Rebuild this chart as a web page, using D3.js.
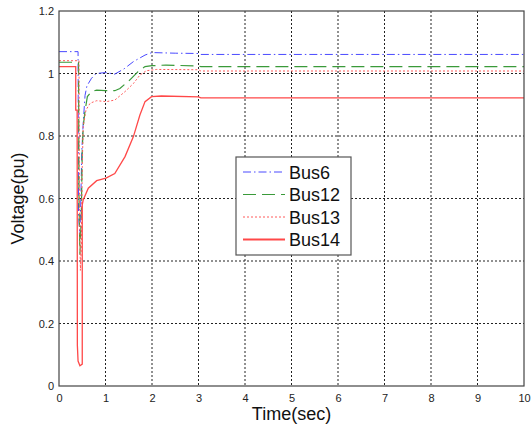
<!DOCTYPE html>
<html lang="en">
<head>
<meta charset="UTF-8">
<title>Bus Voltages</title>
<script src="https://d3js.org/d3.v7.min.js"></script>
<style>
    body{ margin:0; padding:0; background:white; }
    svg{ font-family: "Liberation Sans", Arial, sans-serif; }
</style>
</head>
<body>
<svg id="canvas" width="531" height="427"></svg>
<script>
// data (time in sec, voltage in pu)
const xTicks = [0,1,2,3,4,5,6,7,8,9,10]
const yTicks = [0,0.2,0.4,0.6,0.8,1,1.2]
const yTickLabels = ["0","0.2","0.4","0.6","0.8","1","1.2"]

const bus6T = [0,0.41,0.42,0.45,0.47,0.49,0.52,0.56,0.60,0.70,0.80,1.0,1.2,1.4,1.6,1.85,2.0,2.5,3.0,3.05,10]
const bus6V = [1.07,1.07,0.55,0.48,0.60,0.75,0.84,0.93,0.96,0.985,1.0,1.003,0.998,1.015,1.038,1.059,1.067,1.065,1.064,1.061,1.061]

const bus12T = [0,0.42,0.43,0.45,0.48,0.50,0.52,0.56,0.61,0.70,0.81,1.0,1.2,1.31,1.52,1.70,1.85,2.0,2.3,3.0,3.05,10]
const bus12V = [1.036,1.036,0.6,0.42,0.55,0.75,0.83,0.88,0.926,0.942,0.947,0.945,0.945,0.952,0.979,1.006,1.022,1.025,1.027,1.024,1.022,1.022]

const bus13T = [0,0.43,0.44,0.46,0.48,0.50,0.52,0.58,0.67,0.81,1.02,1.20,1.42,1.60,1.74,1.88,2.1,3.0,3.05,10]
const bus13V = [1.041,1.041,0.6,0.37,0.45,0.70,0.83,0.883,0.905,0.913,0.910,0.915,0.942,0.968,0.995,1.009,1.013,1.012,1.008,1.008]

const bus14T = [0,0.36,0.36,0.39,0.395,0.41,0.45,0.50,0.50,0.52,0.63,0.81,1.01,1.20,1.42,1.60,1.74,1.85,1.99,2.2,3.0,3.05,10]
const bus14V = [1.022,1.022,0.883,0.883,0.13,0.08,0.065,0.07,0.58,0.595,0.633,0.657,0.665,0.68,0.734,0.798,0.867,0.910,0.926,0.928,0.925,0.922,0.922]

const seriesNames = ["Bus6","Bus12","Bus13","Bus14"]
const seriesColors = ["#4a4aff","#3a9a3a","#ff5a5a","#ff4848"]
const seriesDash = ["8,3,1.5,3","13,6","2,2",null]
const seriesWidth = [1,1.2,1,1.3]

const series = [
    {t: bus6T, v: bus6V},
    {t: bus12T, v: bus12V},
    {t: bus13T, v: bus13V},
    {t: bus14T, v: bus14V}
]

const canvas = d3.select("#canvas")
const plotLeft = 59, plotRight = 524, plotTop = 11, plotBottom = 386

const x = d3.scaleLinear().domain([0,10]).range([plotLeft,plotRight])
const y = d3.scaleLinear().domain([0,1.2]).range([plotBottom,plotTop])

// white background
canvas.append("rect").attr("x",0).attr("y",0).attr("width",531).attr("height",427).attr("fill","white")

// grid lines
canvas.append("g").selectAll("line")
    .data(xTicks.slice(1,-1))
    .enter().append("line")
    .attr("x1",d=>x(d)).attr("x2",d=>x(d))
    .attr("y1",plotTop).attr("y2",plotBottom)
    .attr("stroke","#222").attr("stroke-width",1).attr("stroke-dasharray","2,2")

canvas.append("g").selectAll("line")
    .data(yTicks.slice(1,-1))
    .enter().append("line")
    .attr("x1",plotLeft).attr("x2",plotRight)
    .attr("y1",d=>y(d)).attr("y2",d=>y(d))
    .attr("stroke","#222").attr("stroke-width",1).attr("stroke-dasharray","2,2")

// curves
let line = d3.line().x(d=>x(d[0])).y(d=>y(d[1]))

series.forEach((s,i)=>{
    let pts = s.t.map((t,k)=>[t, s.v[k]])
    canvas.append("path")
        .attr("d", line(pts))
        .attr("fill","none")
        .attr("stroke", seriesColors[i])
        .attr("stroke-width", seriesWidth[i])
        .attr("stroke-dasharray", seriesDash[i])
})

// axes
let xAxis = d3.axisBottom(x).tickValues(xTicks).tickSize(0).tickPadding(8)
let yAxis = d3.axisLeft(y).tickValues(yTicks).tickSize(0).tickPadding(5)
    .tickFormat((d,i)=>yTickLabels[i])

let gx = canvas.append("g").attr("transform","translate(0,"+plotBottom+")").call(xAxis)
let gy = canvas.append("g").attr("transform","translate("+plotLeft+",0)").call(yAxis)
;[gx,gy].forEach(g=>{
    g.select(".domain").remove()
    g.selectAll("text").attr("font-size","11px").attr("fill","#222")
        .attr("font-family",'"Liberation Sans", Arial, sans-serif')
})

// frame
canvas.append("rect")
    .attr("x",plotLeft).attr("y",plotTop).attr("width",plotRight-plotLeft).attr("height",plotBottom-plotTop)
    .attr("fill","none").attr("stroke","#444").attr("stroke-width",1.2)

// axis labels
canvas.append("text")
    .attr("x",(plotLeft+plotRight)/2).attr("y",420)
    .attr("text-anchor","middle").attr("font-size","18px").attr("fill","#111")
    .text("Time(sec)")

canvas.append("text")
    .attr("transform","translate(24,"+((plotTop+plotBottom)/2)+") rotate(-90)")
    .attr("text-anchor","middle").attr("font-size","18px").attr("fill","#111")
    .text("Voltage(pu)")

// legend
let legend = canvas.append("g").attr("transform","translate(236,157)")
legend.append("rect").attr("width",115).attr("height",98)
    .attr("fill","white").attr("stroke","#555").attr("stroke-width",1.2)

let rows = legend.selectAll("g.row")
    .data(seriesNames)
    .enter().append("g")
    .attr("class","row")
    .attr("transform",(d,i)=>"translate(0,"+(15+i*22.5)+")")

rows.append("line")
    .attr("x1",7).attr("x2",49).attr("y1",0).attr("y2",0)
    .attr("stroke",(d,i)=>seriesColors[i])
    .attr("stroke-width",(d,i)=>i==3 ? 2 : seriesWidth[i])
    .attr("stroke-dasharray",(d,i)=>seriesDash[i])

rows.append("text")
    .attr("x",53).attr("y",6.5)
    .attr("font-size","18px").attr("fill","#111")
    .text(d=>d)
</script>
</body>
</html>
